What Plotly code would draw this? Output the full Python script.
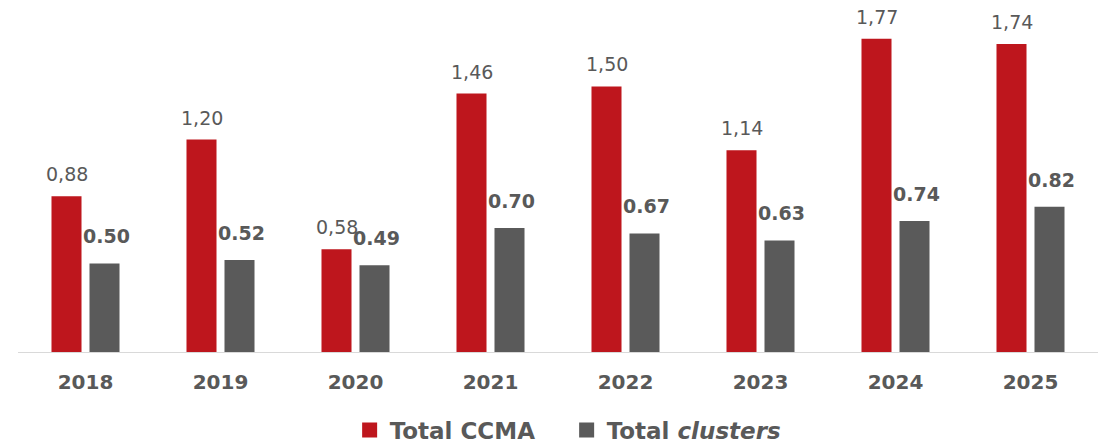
import plotly.graph_objects as go

years = ["2018", "2019", "2020", "2021", "2022", "2023", "2024", "2025"]
ccma = [0.88, 1.20, 0.58, 1.46, 1.50, 1.14, 1.77, 1.74]
clusters = [0.50, 0.52, 0.49, 0.70, 0.67, 0.63, 0.74, 0.82]

RED = "#BE161D"
GRAY = "#5A5A5A"
TXT = "#595959"
FONT = "DejaVu Sans"

ccma_text = [f"{v:.2f}".replace(".", ",") for v in ccma]
clusters_text = [f"<b>{v:.2f}</b>" for v in clusters]

fig = go.Figure()
fig.add_trace(go.Bar(x=years, y=ccma, marker_color=RED, showlegend=False,
                     marker_line_width=0))
fig.add_trace(go.Bar(x=years, y=clusters, marker_color=GRAY, showlegend=False,
                     marker_line_width=0))
# legend entries
fig.add_trace(go.Scatter(x=[None], y=[None], mode="markers", name="<b>Total CCMA</b>",
                         marker=dict(symbol="square", size=15, color=RED)))
fig.add_trace(go.Scatter(x=[None], y=[None], mode="markers", name="<b>Total <i>clusters</i></b>",
                         marker=dict(symbol="square", size=15, color=GRAY)))

annotations = []
for i, (v, t) in enumerate(zip(ccma, ccma_text)):
    annotations.append(dict(x=i, y=v, text=t, showarrow=False, xanchor="center",
                            yanchor="bottom", xshift=-19, yshift=9,
                            font=dict(family=FONT, size=19, color=TXT)))
for i, (v, t) in enumerate(zip(clusters, clusters_text)):
    annotations.append(dict(x=i, y=v, text=t, showarrow=False, xanchor="center",
                            yanchor="bottom", xshift=21, yshift=14,
                            font=dict(family=FONT, size=19, color=TXT)))

fig.update_layout(
    width=1108, height=444,
    margin=dict(l=18, r=10, t=10, b=92, autoexpand=False),
    plot_bgcolor="white", paper_bgcolor="white",
    barmode="group", bargap=0.437, bargroupgap=0.21,
    font=dict(family=FONT, color=TXT),
    showlegend=True,
    legend=dict(orientation="h", x=0.508, xanchor="center", y=-0.228, yanchor="middle",
                font=dict(family=FONT, size=23, color=TXT), itemwidth=30,
                entrywidth=172, traceorder="normal"),
    annotations=annotations,
)
fig.update_xaxes(type="category", categoryorder="array", categoryarray=years,
                 range=[-0.5, len(years) - 0.5],
                 showline=True, linecolor="#D9D9D9", linewidth=1, ticks="",
                 tickfont=dict(family=FONT, size=20, color=TXT),
                 tickprefix="<b>", ticksuffix="</b>", showgrid=False,
                 ticklabelstandoff=12)
fig.update_yaxes(visible=False, range=[0, 1.932], showgrid=False, zeroline=False)

fig.write_html("out.html", config={"displayModeBar": False},
               post_script="document.body.style.margin='0';document.body.style.overflow='hidden';")
